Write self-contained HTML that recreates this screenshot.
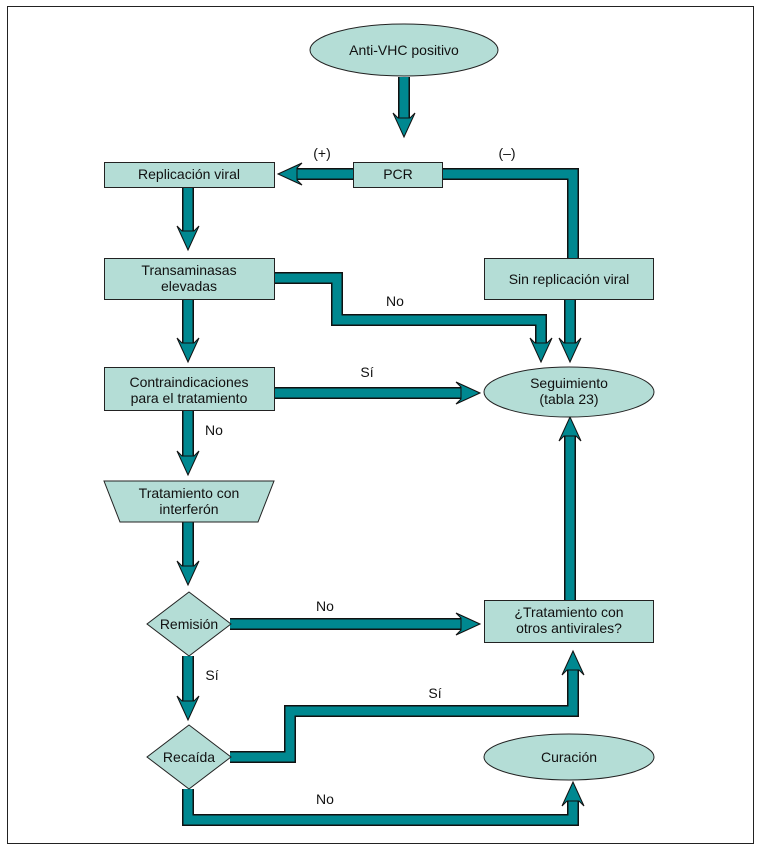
<!DOCTYPE html>
<html><head><meta charset="utf-8"><style>
html,body{margin:0;padding:0;background:#fff;}
svg{display:block;}
text{font-family:"Liberation Sans",sans-serif;font-size:14px;fill:#111;}
</style></head><body>
<svg width="760" height="849" viewBox="0 0 760 849" xmlns="http://www.w3.org/2000/svg">
<rect x="7.5" y="6.5" width="746" height="837" fill="#fff" stroke="#222" stroke-width="1"/>
<g fill="none" stroke-linejoin="miter" stroke-linecap="butt">
<g stroke="#111" stroke-width="12">
<polyline points="404,77 404,120"/>
<polyline points="353,174 295,174"/>
<polyline points="442,174 573,174 573,258"/>
<polyline points="188,187 188,233"/>
<polyline points="188,299 188,345"/>
<polyline points="188,410 188,458"/>
<polyline points="188,522 188,568"/>
<polyline points="188,656 188,703"/>
<polyline points="570,299 570,345"/>
<polyline points="274,278 337,278 337,320 541,320 541,345"/>
<polyline points="274,393 463,393"/>
<polyline points="230,624 463,624"/>
<polyline points="570,600 570,434"/>
<polyline points="230,757 290,757 290,711 573,711 573,668"/>
<polyline points="188,789 188,820 573,820 573,799"/>
</g>
<g stroke="#008890" stroke-width="9">
<polyline points="404,77 404,121"/>
<polyline points="353,174 294,174"/>
<polyline points="442,174 573,174 573,258"/>
<polyline points="188,187 188,234"/>
<polyline points="188,299 188,346"/>
<polyline points="188,410 188,459"/>
<polyline points="188,522 188,569"/>
<polyline points="188,656 188,704"/>
<polyline points="570,299 570,346"/>
<polyline points="274,278 337,278 337,320 541,320 541,346"/>
<polyline points="274,393 464,393"/>
<polyline points="230,624 464,624"/>
<polyline points="570,600 570,433"/>
<polyline points="230,757 290,757 290,711 573,711 573,667"/>
<polyline points="188,789 188,820 573,820 573,798"/>
</g>
</g>
<g fill="#008890" stroke="#111" stroke-width="1">
<polygon points="404,137 415,113 410,118 398,118 393,113"/>
<polygon points="188,250 199,226 194,231 182,231 177,226"/>
<polygon points="188,362 199,338 194,343 182,343 177,338"/>
<polygon points="188,475 199,451 194,456 182,456 177,451"/>
<polygon points="188,585 199,561 194,566 182,566 177,561"/>
<polygon points="188,720 199,696 194,701 182,701 177,696"/>
<polygon points="570,362 581,338 576,343 564,343 559,338"/>
<polygon points="541,362 552,338 547,343 535,343 530,338"/>
<polygon points="278,174 302,163 297,168 297,180 302,185"/>
<polygon points="480,393 456,382 461,387 461,399 456,404"/>
<polygon points="480,624 456,613 461,618 461,630 456,635"/>
<polygon points="570,417 581,441 576,436 564,436 559,441"/>
<polygon points="573,651 584,675 579,670 567,670 562,675"/>
<polygon points="573,782 584,806 579,801 567,801 562,806"/>
</g>
<g fill="#b4ddd6" stroke="#222" stroke-width="1">
<ellipse cx="404" cy="50" rx="94" ry="26"/>
<rect x="353.5" y="162.5" width="89" height="25"/>
<rect x="104.5" y="162.5" width="170" height="25"/>
<rect x="484.5" y="258.5" width="169" height="41"/>
<rect x="104.5" y="258.5" width="170" height="41"/>
<rect x="104.5" y="367.5" width="170" height="43"/>
<ellipse cx="569" cy="392" rx="85" ry="25"/>
<polygon points="104,481 274,481 258,522 120,522"/>
<polygon points="189,592 231,624 189,656 147,624"/>
<rect x="484.5" y="600.5" width="169" height="42"/>
<polygon points="189,725 231,757 189,789 147,757"/>
<ellipse cx="569" cy="757" rx="85" ry="23"/>
</g>
<g text-anchor="middle">
<text x="404" y="55">Anti-VHC positivo</text>
<text x="398" y="179">PCR</text>
<text x="189" y="179">Replicación viral</text>
<text x="569" y="284">Sin replicación viral</text>
<text x="189" y="275">Transaminasas</text>
<text x="189" y="291">elevadas</text>
<text x="189" y="387">Contraindicaciones</text>
<text x="189" y="403">para el tratamiento</text>
<text x="569" y="388">Seguimiento</text>
<text x="569" y="404">(tabla 23)</text>
<text x="189" y="498">Tratamiento con</text>
<text x="189" y="514">interferón</text>
<text x="189" y="629">Remisión</text>
<text x="569" y="617">¿Tratamiento con</text>
<text x="569" y="633">otros antivirales?</text>
<text x="189" y="762">Recaída</text>
<text x="569" y="762">Curación</text>
<text x="322" y="158">(+)</text>
<text x="507" y="158">(–)</text>
<text x="395" y="306">No</text>
<text x="367" y="377">Sí</text>
<text x="214" y="435">No</text>
<text x="325" y="611">No</text>
<text x="212" y="680">Sí</text>
<text x="435" y="698">Sí</text>
<text x="325" y="804">No</text>
</g>
</svg>
</body></html>
